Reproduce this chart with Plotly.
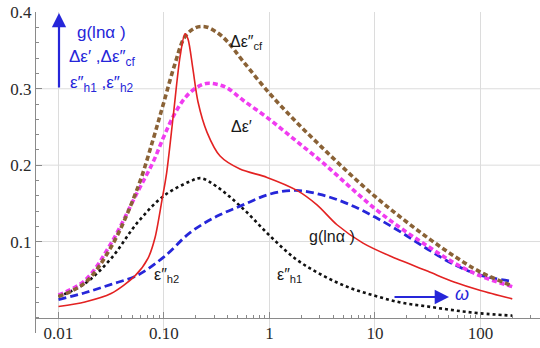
import plotly.graph_objects as go

# ---------------- data ----------------
omega_red = [0.01, 0.0178, 0.0315, 0.0531, 0.0705, 0.0822, 0.0951, 0.106, 0.1225, 0.142,
             0.158, 0.169, 0.188, 0.21, 0.256, 0.34, 0.525, 0.947, 1.82, 2.82,
             4.36, 7.7, 13.9, 31.8, 56.1, 100, 200]
g_ln_alpha = [0.015, 0.021, 0.032, 0.055, 0.078, 0.105, 0.152, 0.190, 0.265, 0.342,
              0.372, 0.365, 0.326, 0.283, 0.243, 0.212, 0.195, 0.184, 0.167, 0.148,
              0.122, 0.098, 0.081, 0.061, 0.047, 0.036, 0.025]

omega_grid = [0.01, 0.0178, 0.0316, 0.0562, 0.0794, 0.1, 0.126, 0.158, 0.2, 0.251,
              0.316, 0.398, 0.562, 1, 1.78, 3.16, 5.62, 10, 17.8, 31.6, 56.2, 100, 200]
d_eps_cf = [0.028, 0.046, 0.093, 0.170, 0.235, 0.283, 0.331, 0.368, 0.380, 0.381,
            0.374, 0.362, 0.336, 0.294, 0.257, 0.223, 0.190, 0.159, 0.131, 0.105,
            0.081, 0.060, 0.042]
d_eps_re = [0.030, 0.049, 0.098, 0.165, 0.205, 0.238, 0.267, 0.288, 0.301, 0.307,
            0.306, 0.301, 0.285, 0.260, 0.232, 0.204, 0.173, 0.143, 0.117, 0.094,
            0.072, 0.055, 0.041]

omega_h = [0.01, 0.0178, 0.0316, 0.0562, 0.1, 0.178, 0.224, 0.316, 0.562, 1,
           1.78, 3.16, 5.62, 10, 17.8, 31.6, 56.2, 100, 200]
eps_h1 = [0.028, 0.045, 0.078, 0.125, 0.160, 0.179, 0.183, 0.172, 0.143, 0.108,
          0.077, 0.056, 0.040, 0.029, 0.020, 0.015, 0.010, 0.006, 0.003]

omega_h2 = [0.01, 0.0178, 0.0316, 0.0562, 0.1, 0.178, 0.316, 0.562, 1, 1.78,
            3.16, 5.62, 10, 17.8, 31.6, 56.2, 100, 200]
eps_h2 = [0.024, 0.033, 0.044, 0.056, 0.080, 0.112, 0.133, 0.148, 0.162, 0.167,
          0.161, 0.149, 0.132, 0.112, 0.090, 0.070, 0.056, 0.048]

x_tickvals = [0.01, 0.1, 1, 10, 100]
x_ticktext = ["0.01", "0.10", "1", "10", "100"]
y_tickvals = [0.1, 0.2, 0.3, 0.4]
y_ticktext = ["0.1", "0.2", "0.3", "0.4"]

# ---------------- figure ----------------
W, H = 540, 348
ML, MR, MT, MB = 36, 0, 12, 15
Y0, Y1 = -0.0197, 0.4005

def P(px, py):
    return (px - ML) / (W - ML - MR), (H - MB - py) / (H - MB - MT)

fig = go.Figure()

BLUE = "#2626d9"
fig.add_trace(go.Scatter(x=omega_h, y=eps_h1, mode="lines",
                         line=dict(color="#111111", width=2.6, dash="dot", shape="spline")))
fig.add_trace(go.Scatter(x=omega_h2, y=eps_h2, mode="lines",
                         line=dict(color=BLUE, width=2.8, dash="8px,4px", shape="spline")))
fig.add_trace(go.Scatter(x=omega_grid, y=d_eps_re, mode="lines",
                         line=dict(color="#f03cf0", width=3.6, dash="5px,3px", shape="spline")))
fig.add_trace(go.Scatter(x=omega_grid, y=d_eps_cf, mode="lines",
                         line=dict(color="#8a6236", width=3.6, dash="5px,3px", shape="spline")))
fig.add_trace(go.Scatter(x=omega_red, y=g_ln_alpha, mode="lines",
                         line=dict(color="#e32222", width=1.6, shape="spline", smoothing=0.8)))

# horizontal grid lines
for v in [0.1, 0.2, 0.3]:
    fig.add_shape(type="line", xref="paper", yref="y", x0=0, x1=1, y0=v, y1=v,
                  line=dict(color="#dcdcdc", width=1), layer="below")

minor_x = [m * 10 ** e for e in [-2, -1, 0, 1, 2] for m in range(2, 10)]
minor_y = [round(0.02 * i, 2) for i in range(0, 21)]

fig.update_xaxes(type="log", range=[-2.213, 2.564],
                 tickvals=x_tickvals, ticktext=x_ticktext,
                 ticks="inside", ticklen=6, tickcolor="#8a8a8a", tickwidth=1,
                 showline=True, linecolor="#8a8a8a", linewidth=1,
                 showgrid=True, gridcolor="#dcdcdc", gridwidth=1,
                 zeroline=False, anchor="free", position=(0 - Y0) / (Y1 - Y0),
                 tickfont=dict(family="Liberation Serif", size=17, color="#2a2a2a"),
                 minor=dict(tickvals=minor_x, ticks="inside", ticklen=3,
                            tickcolor="#8a8a8a", showgrid=False))
fig.update_yaxes(range=[Y0, Y1], tickvals=y_tickvals, ticktext=y_ticktext,
                 ticks="inside", ticklen=6, tickcolor="#8a8a8a",
                 showline=True, linecolor="#8a8a8a", linewidth=1,
                 showgrid=False, zeroline=False,
                 tickfont=dict(family="Liberation Serif", size=17, color="#2a2a2a"),
                 minor=dict(tickvals=minor_y, ticks="inside", ticklen=3,
                            tickcolor="#8a8a8a", showgrid=False))

SANS = "Liberation Sans"
def label(text, px, py, color="#1a1a1a", size=16):
    fx, fy = P(px, py)
    fig.add_annotation(x=fx, y=fy, xref="paper", yref="paper", text=text,
                       showarrow=False, font=dict(family=SANS, size=size, color=color),
                       xanchor="center", yanchor="middle")

label("g(lnα )", 101, 32, BLUE, 17)
label("Δε′ ,Δε″<sub>cf</sub>", 102, 58, BLUE, 17)
label("ε″<sub>h1</sub> ,ε″<sub>h2</sub>", 102, 84, BLUE, 17)
label("Δε″<sub>cf</sub>", 246, 42)
label("Δε′", 241, 126)
label("g(lnα )", 332, 236)
label("ε″<sub>h1</sub>", 289, 275)
label("ε″<sub>h2</sub>", 166, 275)
label("<i>ω</i>", 462, 294, BLUE, 18)

# arrows
hx, hy = P(59, 13)
fig.add_annotation(x=hx, y=hy, xref="paper", yref="paper", text="", showarrow=True,
                   ax=0, ay=76, arrowhead=2, arrowsize=1.3, arrowwidth=2.2,
                   arrowcolor=BLUE, standoff=0)
hx, hy = P(449, 297)
fig.add_annotation(x=hx, y=hy, xref="paper", yref="paper", text="", showarrow=True,
                   ax=-56, ay=0, arrowhead=2, arrowsize=1.3, arrowwidth=2.2,
                   arrowcolor=BLUE, standoff=0)

fig.update_layout(width=W, height=H, margin=dict(l=ML, r=MR, t=MT, b=MB),
                  paper_bgcolor="white", plot_bgcolor="white", showlegend=False)

fig.write_html("out.html")
